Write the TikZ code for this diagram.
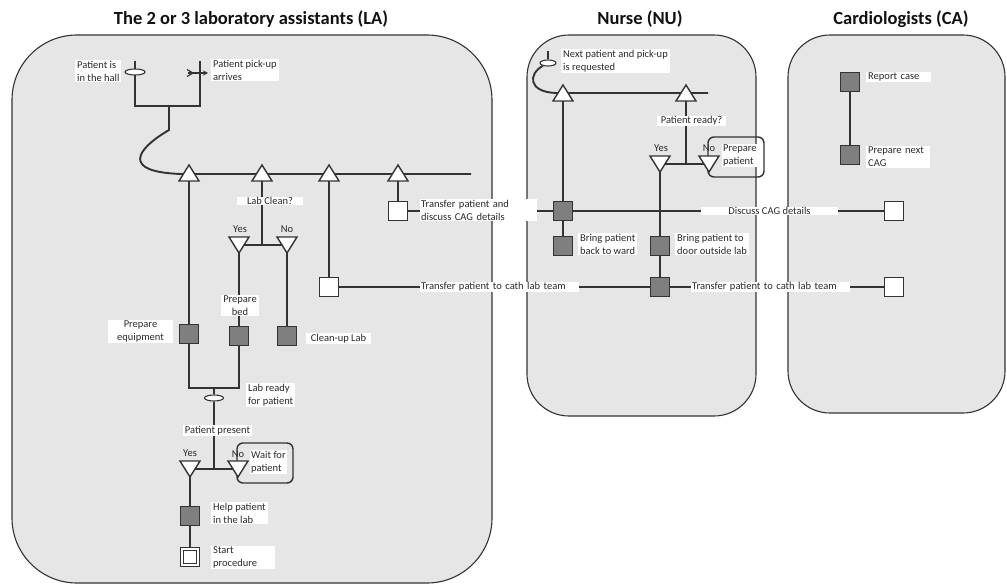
\documentclass[tikz,border=0pt]{standalone}
\usepackage{fontspec}
\setmainfont{Carlito}
\usetikzlibrary{shapes.geometric,arrows.meta,calc}
\pgfdeclarelayer{back}
\pgfdeclarelayer{lines}
\pgfsetlayers{back,lines,main}
\definecolor{lanebg}{HTML}{E6E6E6}
\definecolor{linec}{HTML}{333333}
\definecolor{actfill}{HTML}{7F7F7F}
\definecolor{txt}{HTML}{2A2A2A}
\definecolor{titlec}{HTML}{111111}
\newcommand\lblfont{\fontsize{10.5}{13}\selectfont}
\newcommand\ttlfont{\fontsize{18.5}{21}\selectfont\bfseries}
\begin{document}
\begin{tikzpicture}[x=1pt,y=-1pt,
  lane/.style={draw=linec, line width=1.1pt, fill=lanebg},
  lbl/.style={fill=white, text=txt, font=\lblfont, inner xsep=2pt, inner ysep=0.8pt, align=left},
  lblc/.style={lbl, align=center},
  yn/.style={text=txt, font=\lblfont, inner sep=0pt},
  act/.style={draw=linec, line width=1.4pt, fill=actfill, minimum size=19pt, inner sep=0pt},
  wsq/.style={act, fill=white},
  dsq/.style={draw=linec, line width=1pt, double=white, double distance=2.2pt, fill=white, minimum size=16pt, inner sep=0pt},
  evt/.style={ellipse, draw=linec, line width=1.1pt, fill=white, minimum width=20pt, minimum height=6pt, inner sep=0pt},
  ln/.style={draw=linec, line width=1.9pt},
  rbox/.style={draw=linec, line width=1.4pt, rounded corners=6pt},
  uptri/.pic={\filldraw[fill=white, draw=linec, line width=1.4pt, line join=miter] (-10,8) -- (10,8) -- (0,-8) -- cycle;},
  dntri/.pic={\filldraw[fill=white, draw=linec, line width=1.4pt, line join=miter] (-10,-8) -- (10,-8) -- (0,8) -- cycle;}
]
\useasboundingbox (0,0) rectangle (1007,586);

% titles
\node[font=\ttlfont, text=titlec] (tLA) at (251,19) {The 2 or 3 laboratory assistants (LA)};
\node[font=\ttlfont, text=titlec] (tNU) at (640,19) {Nurse (NU)};
\node[font=\ttlfont, text=titlec] (tCA) at (901,19) {Cardiologists (CA)};

% lanes
\begin{pgfonlayer}{back}
\draw[lane, rounded corners=65pt] (12,35) rectangle (492,583);
\draw[lane, rounded corners=42pt] (527,35) rectangle (756,416);
\draw[lane, rounded corners=42pt] (788,35) rectangle (1005,413);
\end{pgfonlayer}

% ---------- coordinates ----------
\coordinate (evtop) at (135,61);
\coordinate (jl) at (135,106);
\coordinate (jr) at (200,106);
\coordinate (jm) at (169,106);
\coordinate (jc) at (169,130);
\coordinate (trtop) at (200,61);
\coordinate (trtail) at (188,73);
\coordinate (trhead) at (208,73);
\coordinate (lastart) at (181,174);
\coordinate (laend) at (471,174);
\coordinate (t1) at (189,173);
\coordinate (t2) at (262,173);
\coordinate (t3) at (329,173);
\coordinate (t4) at (398,173);
\coordinate (jclean) at (262,245);
\coordinate (yes1) at (239,245);
\coordinate (no1) at (287,245);
\coordinate (jready) at (214,388);
\coordinate (jpres) at (214,469);
\coordinate (yes2) at (190,469);
\coordinate (no2) at (238,469);
\coordinate (ev3top) at (548,51);
\coordinate (nstart) at (556,93);
\coordinate (nend) at (708,93);
\coordinate (n1) at (563,93);
\coordinate (n2) at (686,93);
\coordinate (jnr) at (686,164);
\coordinate (yes3) at (660,164);
\coordinate (no3) at (709,164);

% ---------- activity nodes ----------
\node[evt] (ev1) at (135,72) {};
\node[evt, minimum width=19pt] (ev2) at (214,398) {};
\node[evt, minimum width=16pt] (ev3) at (548,63) {};

\node[act] (peq) at (189,334) {};
\node[act] (pbed) at (239,336) {};
\node[act] (pcl) at (287,336) {};
\node[wsq] (sqtc) at (329,287) {};
\node[wsq] (sqtd) at (398,211) {};
\node[act] (help) at (190,516) {};
\node[dsq] (start) at (190,557) {};
\node[act] (nu1) at (563,211) {};
\node[act] (nuback) at (563,246) {};
\node[act] (nudoor) at (660,246) {};
\node[act] (nutc) at (660,287) {};
\node[wsq] (ca1) at (894,211) {};
\node[wsq] (ca2) at (894,287) {};
\node[act] (carep) at (850,82) {};
\node[act] (canext) at (850,155) {};

% ---------- connectors ----------
\begin{pgfonlayer}{lines}
\draw[ln] (evtop) -- (jl) -- (jr) -- (trtop);
\draw[ln] (jm) -- (jc) .. controls (135,150) and (122,172) .. (lastart) -- (laend);
\draw[ln, line width=1.2pt, -{Stealth[length=5pt,width=5pt]}] (trtail) -- (trhead);
\draw[ln, line width=1.2pt] ($(trtail)+(-1,-3.5)$) -- ($(trtail)+(5,0)$) -- ($(trtail)+(-1,3.5)$);
\draw[ln] (t1) -- (peq);
\draw[ln] (peq) |- (jready) -| (pbed);
\draw[ln] (t2) -- (jclean);
\draw[ln] (yes1) -- (no1);
\draw[ln] (yes1) -- (pbed);
\draw[ln] (no1) -- (pcl);
\draw[ln] (jready) -- (ev2) -- (jpres);
\draw[ln] (yes2) -- (no2);
\draw[ln] (yes2) -- (help) -- (start);
\draw[ln] (t3) -- (sqtc) -- (nutc) -- (ca2);
\draw[ln] (t4) -- (sqtd) -- (nu1) -- (ca1);
\draw[ln] (ev3top) -- (ev3);
\draw[ln] (ev3) .. controls (528,74) and (528,92) .. (nstart) -- (nend);
\draw[ln] (n1) -- (nu1) -- (nuback);
\draw[ln] (n2) -- (jnr);
\draw[ln] (yes3) -- (no3);
\draw[ln] (yes3) -- (nudoor) -- (nutc);
\draw[ln] (carep) -- (canext);
\end{pgfonlayer}

% rounded loop boxes
\draw[rbox] (237,443) rectangle (293,483);
\draw[rbox] (708,137) rectangle (764,177);

% gateways
\pic at (t1) {uptri};
\pic at (t2) {uptri};
\pic at (t3) {uptri};
\pic at (t4) {uptri};
\pic at (yes1) {dntri};
\pic at (no1) {dntri};
\pic at (yes2) {dntri};
\pic at (no2) {dntri};
\pic at (n1) {uptri};
\pic at (n2) {uptri};
\pic at (yes3) {dntri};
\pic at (no3) {dntri};

% ---------- labels ----------
\node[lbl, anchor=north west] (lhall) at (75,60) {Patient is\\in the hall};
\node[lbl, anchor=north west] (lpick) at (211,59) {Patient pick-up\\arrives};
\node[lbl, minimum width=66pt] (lclean) at (270,201) {Lab Clean?};
\node[yn] (ly1) at (240,229) {Yes};
\node[yn] (ln1) at (287,229) {No};
\node[lblc] (lbed) at (240,305.5) {Prepare\\bed};
\node[lblc, minimum width=65pt] (lequip) at (140.5,331.5) {Prepare\\equipment};
\node[lbl, minimum width=65pt] (lclup) at (338.5,338.5) {Clean-up Lab};
\node[lbl, anchor=north west] (lready) at (246,383) {Lab ready\\for patient};
\node[lbl] (lpres) at (217.5,430.5) {Patient present};
\node[yn] (ly2) at (190,453) {Yes};
\node[yn] (ln2) at (238,454) {No};
\node[lbl, anchor=north west, inner xsep=1pt] (lwait) at (250,450) {Wait for\\patient};
\node[lbl, anchor=north west] (lhelp) at (211,502) {Help patient\\in the lab};
\node[lbl, anchor=north west, text width=60pt] (lstart) at (211,546) {Start\\procedure};
\node[lbl, anchor=north west, text width=115pt, inner xsep=1pt] (ltd) at (420,199) {Transfer patient and\\discuss CAG details};
\node[lbl, anchor=west, text width=157pt, inner xsep=1pt] (ltc1) at (420,287) {Transfer patient to cath lab team};

\node[lbl, anchor=north west] (lnext) at (561,49) {Next patient and pick-up\\is requested};
\node[lbl, minimum width=69pt] (lready2) at (691.5,121) {Patient ready?};
\node[yn] (ly3) at (661,148) {Yes};
\node[yn] (ln3) at (709,148) {No};
\node[lbl, anchor=north west, inner xsep=1pt] (lprep) at (722,144) {Prepare\\patient};
\node[lbl, anchor=north west] (lback) at (578,233) {Bring patient\\back to ward};
\node[lbl, anchor=north west] (ldoor) at (675,233) {Bring patient to\\door outside lab};
\node[lbl, minimum width=137pt] (ldisc) at (769.5,211) {Discuss CAG details};
\node[lbl, anchor=west, text width=157pt, inner xsep=1pt] (ltc2) at (691,287) {Transfer patient to cath lab team};

\node[lbl, anchor=north west, text width=61pt] (lrep) at (866,72) {Report case};
\node[lbl, anchor=north west, text width=60pt] (lpnc) at (866,146) {Prepare next\\CAG};
\end{tikzpicture}
\end{document}
